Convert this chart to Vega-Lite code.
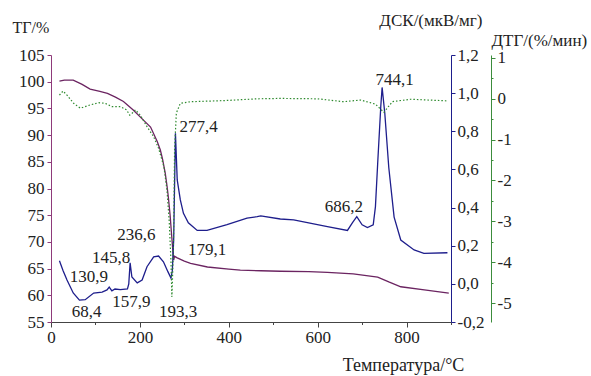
{
  "$schema": "https://vega.github.io/schema/vega-lite/v6.json",
  "width": 400,
  "height": 267,
  "autosize": {"type": "none"},
  "padding": {"left": 51, "top": 55, "right": 140, "bottom": 54},
  "background": "white",
  "config": {
    "view": {"stroke": null},
    "font": "Liberation Serif",
    "axis": {
      "grid": false,
      "labelFont": "Liberation Serif",
      "titleFont": "Liberation Serif",
      "labelFontSize": 17,
      "titleFontSize": 17,
      "labelColor": "#222222",
      "titleColor": "#222222",
      "titleFontWeight": "normal",
      "labelOverlap": false,
      "labelBound": false,
      "labelFlush": false
    }
  },
  "datasets": {
    "tg": [
      {"T": 19, "v": 100.1}, {"T": 30, "v": 100.3}, {"T": 50, "v": 100.3}, {"T": 70, "v": 99.5},
      {"T": 88, "v": 98.6}, {"T": 110, "v": 98.2}, {"T": 127, "v": 97.8}, {"T": 145, "v": 97.1},
      {"T": 163, "v": 96.3}, {"T": 185, "v": 94.7}, {"T": 208, "v": 92.8}, {"T": 224, "v": 91.5},
      {"T": 239, "v": 88.8}, {"T": 246, "v": 87.2}, {"T": 251, "v": 85.5}, {"T": 257, "v": 82.9},
      {"T": 261, "v": 80.5}, {"T": 264, "v": 78.4}, {"T": 268, "v": 75.0}, {"T": 271, "v": 71.7},
      {"T": 274, "v": 68.5}, {"T": 276, "v": 66.6}, {"T": 278, "v": 67.3}, {"T": 284, "v": 67.0},
      {"T": 300, "v": 66.4}, {"T": 314, "v": 66.0}, {"T": 352, "v": 65.3}, {"T": 400, "v": 64.9},
      {"T": 426, "v": 64.7}, {"T": 472, "v": 64.6}, {"T": 516, "v": 64.5}, {"T": 580, "v": 64.45},
      {"T": 622, "v": 64.3}, {"T": 680, "v": 64.0}, {"T": 735, "v": 63.4}, {"T": 760, "v": 62.5},
      {"T": 787, "v": 61.6}, {"T": 840, "v": 61.0}, {"T": 895, "v": 60.4}
    ],
    "dsc": [
      {"T": 19, "v": 0.121}, {"T": 27, "v": 0.07}, {"T": 36, "v": 0.02}, {"T": 50, "v": -0.048},
      {"T": 64, "v": -0.085}, {"T": 77, "v": -0.083}, {"T": 96, "v": -0.048}, {"T": 115, "v": -0.043},
      {"T": 126, "v": -0.032}, {"T": 131, "v": -0.017}, {"T": 137, "v": -0.037}, {"T": 144, "v": -0.027},
      {"T": 156, "v": -0.03}, {"T": 172, "v": -0.027}, {"T": 175, "v": 0.0}, {"T": 178, "v": 0.11},
      {"T": 182, "v": 0.036}, {"T": 194, "v": 0.005}, {"T": 205, "v": 0.02}, {"T": 216, "v": 0.09},
      {"T": 231, "v": 0.142}, {"T": 242, "v": 0.146}, {"T": 253, "v": 0.116}, {"T": 263, "v": 0.064},
      {"T": 270, "v": 0.03}, {"T": 273, "v": 0.07}, {"T": 276, "v": 0.23}, {"T": 280, "v": 0.79},
      {"T": 284, "v": 0.545}, {"T": 291, "v": 0.44}, {"T": 298, "v": 0.37}, {"T": 309, "v": 0.32},
      {"T": 329, "v": 0.28}, {"T": 351, "v": 0.28}, {"T": 396, "v": 0.31}, {"T": 441, "v": 0.345},
      {"T": 464, "v": 0.352}, {"T": 472, "v": 0.356}, {"T": 516, "v": 0.34}, {"T": 546, "v": 0.335},
      {"T": 622, "v": 0.30}, {"T": 667, "v": 0.28}, {"T": 678, "v": 0.32}, {"T": 688, "v": 0.352},
      {"T": 700, "v": 0.31}, {"T": 712, "v": 0.295}, {"T": 725, "v": 0.31}, {"T": 730, "v": 0.405},
      {"T": 735, "v": 0.63}, {"T": 742, "v": 0.93}, {"T": 745, "v": 1.03}, {"T": 751, "v": 0.896},
      {"T": 760, "v": 0.61}, {"T": 772, "v": 0.35}, {"T": 787, "v": 0.23}, {"T": 817, "v": 0.178},
      {"T": 839, "v": 0.16}, {"T": 892, "v": 0.163}
    ],
    "dtg": [
      {"T": 19, "v": 0.09}, {"T": 27, "v": 0.19}, {"T": 36, "v": 0.09}, {"T": 51, "v": -0.11},
      {"T": 66, "v": -0.23}, {"T": 88, "v": -0.15}, {"T": 107, "v": -0.095}, {"T": 122, "v": -0.11},
      {"T": 137, "v": -0.19}, {"T": 156, "v": -0.19}, {"T": 170, "v": -0.27}, {"T": 177, "v": -0.40},
      {"T": 182, "v": -0.36}, {"T": 190, "v": -0.27}, {"T": 201, "v": -0.40}, {"T": 216, "v": -0.68},
      {"T": 231, "v": -0.93}, {"T": 242, "v": -1.21}, {"T": 254, "v": -1.66}, {"T": 261, "v": -2.24},
      {"T": 266, "v": -3.0}, {"T": 270, "v": -4.0}, {"T": 272, "v": -4.85}, {"T": 274, "v": -4.2},
      {"T": 276, "v": -3.29}, {"T": 278, "v": -1.25}, {"T": 282, "v": -0.35}, {"T": 291, "v": -0.11},
      {"T": 314, "v": -0.07}, {"T": 388, "v": -0.045}, {"T": 464, "v": 0.0}, {"T": 516, "v": 0.01},
      {"T": 600, "v": 0.0}, {"T": 658, "v": -0.07}, {"T": 697, "v": -0.03}, {"T": 730, "v": -0.13},
      {"T": 749, "v": -0.33}, {"T": 768, "v": -0.07}, {"T": 809, "v": -0.01}, {"T": 850, "v": -0.03},
      {"T": 892, "v": -0.05}
    ],
    "labels": [
      {"T": 773, "v": 1.07, "text": "744,1"},
      {"T": 659, "v": 0.405, "text": "686,2"},
      {"T": 332, "v": 0.82, "text": "277,4"},
      {"T": 351, "v": 0.178, "text": "179,1"},
      {"T": 192, "v": 0.256, "text": "236,6"},
      {"T": 135, "v": 0.136, "text": "145,8"},
      {"T": 85, "v": 0.036, "text": "130,9"},
      {"T": 80, "v": -0.146, "text": "68,4"},
      {"T": 181, "v": -0.094, "text": "157,9"},
      {"T": 286, "v": -0.146, "text": "193,3"}
    ]
  },
  "layer": [
    {
      "data": {"name": "tg"},
      "mark": {"type": "line", "color": "#6b2461", "strokeWidth": 1.3},
      "encoding": {
        "x": {
          "field": "T", "type": "quantitative", "title": "Температура/°C",
          "scale": {"domain": [0, 900], "nice": false, "zero": false},
          "axis": {
            "orient": "bottom",
            "values": [0,25,50,75,100,125,150,175,200,225,250,275,300,325,350,375,400,425,450,475,500,525,550,575,600,625,650,675,700,725,750,775,800,825,850,875,900],
            "labelExpr": "datum.value % 200 === 0 ? datum.label : ''",
            "tickSize": {"condition": {"test": "datum.value % 200 === 0", "value": 5}, "value": 2.5},
            "domainColor": "#444444", "tickColor": "#444444",
            "labelPadding": 2,
            "titleFontSize": 18, "titleAlign": "center", "titleBaseline": "middle",
            "titleX": 352, "titleY": 43
          }
        },
        "y": {
          "field": "v", "type": "quantitative", "title": "ТГ/%",
          "scale": {"domain": [55, 105], "nice": false, "zero": false},
          "axis": {
            "orient": "left",
            "values": [55,60,65,70,75,80,85,90,95,100,105],
            "format": "d",
            "domainColor": "#8e3a7a", "tickColor": "#8e3a7a",
            "tickSize": 4, "labelPadding": 3,
            "titleAngle": 0, "titleAlign": "left", "titleBaseline": "middle",
            "titleX": -39, "titleY": -28, "titleFontSize": 16
          }
        }
      }
    },
    {
      "encoding": {
        "x": {"field": "T", "type": "quantitative", "title": "Температура/°C", "scale": {"domain": [0, 900], "nice": false, "zero": false}},
        "y": {
          "field": "v", "type": "quantitative", "title": "ДСК/(мкВ/мг)",
          "scale": {"domain": [-0.2, 1.2], "nice": false, "zero": false},
          "axis": {
            "orient": "right",
            "values": [-0.2, 0, 0.2, 0.4, 0.6, 0.8, 1.0, 1.2],
            "labelExpr": "replace(replace(format(datum.value, '.1f'), '.', ','), '\u2212', '-')",
            "domainColor": "#1e1e8c", "tickColor": "#1e1e8c",
            "tickSize": 4, "labelPadding": 2,
            "titleAngle": 0, "titleAlign": "right", "titleBaseline": "middle",
            "titleX": 31, "titleY": -35
          }
        }
      },
      "layer": [
        {
          "data": {"name": "dsc"},
          "mark": {"type": "line", "color": "#1e1e8c", "strokeWidth": 1.3}
        },
        {
          "data": {"name": "labels"},
          "mark": {"type": "text", "font": "Liberation Serif", "fontSize": 17, "color": "#222222", "align": "center", "baseline": "middle"},
          "encoding": {
            "text": {"field": "text"}
          }
        }
      ]
    },
    {
      "data": {"name": "dtg"},
      "mark": {"type": "line", "color": "#2e8a2e", "strokeWidth": 1.2, "strokeDash": [1.5, 2]},
      "encoding": {
        "x": {"field": "T", "type": "quantitative", "title": "Температура/°C", "scale": {"domain": [0, 900], "nice": false, "zero": false}},
        "y": {
          "field": "v", "type": "quantitative", "title": "ДТГ/(%/мин)",
          "scale": {"domain": [-5.465, 1.073], "nice": false, "zero": false},
          "axis": {
            "orient": "right", "offset": 40,
            "values": [-5, -4.5, -4, -3.5, -3, -2.5, -2, -1.5, -1, -0.5, 0, 0.5, 1],
            "labelExpr": "datum.value % 1 === 0 ? replace(format(datum.value, 'd'), '\u2212', '-') : ''",
            "tickSize": {"condition": {"test": "datum.value % 1 === 0", "value": 4}, "value": 2},
            "domainColor": "#3c8c3c", "tickColor": "#3c8c3c",
            "labelPadding": 2,
            "titleAngle": 0, "titleAlign": "left", "titleBaseline": "middle",
            "titleX": 0, "titleY": -15
          }
        }
      }
    }
  ],
  "resolve": {"scale": {"y": "independent"}}
}
